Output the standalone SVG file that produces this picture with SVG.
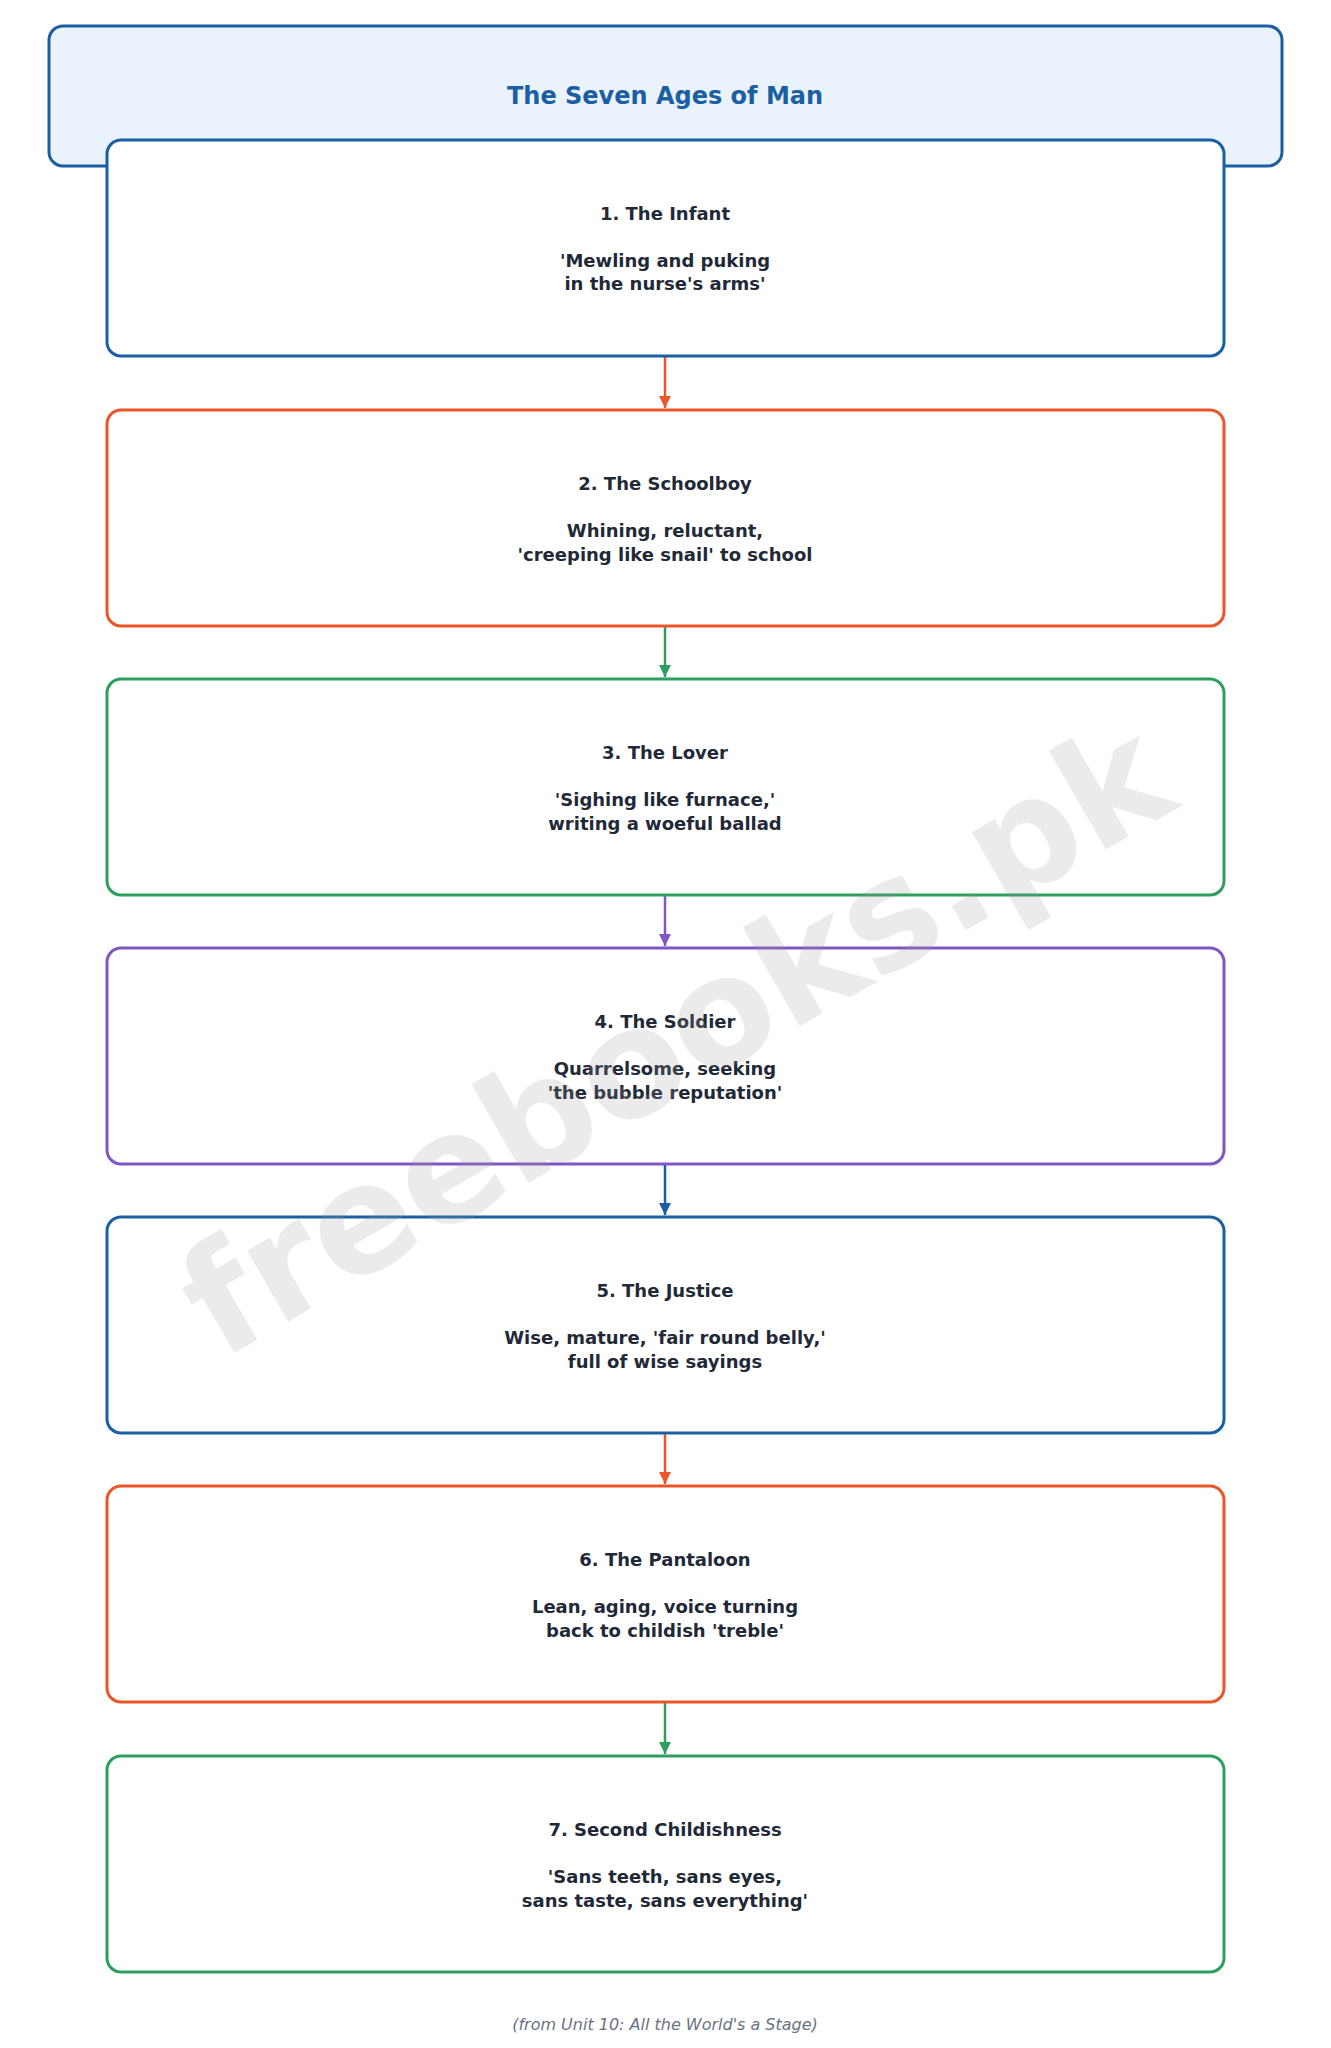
<svg xmlns="http://www.w3.org/2000/svg" width="1331" height="2048" viewBox="0 0 1331 2048">
<style>
.n{fill:#fff;stroke-width:3}
.t{font-family:"DejaVu Sans",sans-serif;font-weight:bold;font-size:18px;fill:#1f2937;text-anchor:middle}
.c{stroke-width:2.5;fill:none}
</style>
<defs>
<marker id="mo" viewBox="0 0 10 10" refX="10" refY="5" markerWidth="5" markerHeight="5" orient="auto"><path d="M0,0L10,5L0,10z" fill="#e8562a"/></marker>
<marker id="mg" viewBox="0 0 10 10" refX="10" refY="5" markerWidth="5" markerHeight="5" orient="auto"><path d="M0,0L10,5L0,10z" fill="#2e9e5e"/></marker>
<marker id="mp" viewBox="0 0 10 10" refX="10" refY="5" markerWidth="5" markerHeight="5" orient="auto"><path d="M0,0L10,5L0,10z" fill="#7e57c2"/></marker>
<marker id="mb" viewBox="0 0 10 10" refX="10" refY="5" markerWidth="5" markerHeight="5" orient="auto"><path d="M0,0L10,5L0,10z" fill="#1a5fa3"/></marker>
</defs>
<rect width="1331" height="2048" fill="#fff"/>
<g id="title"><rect x="49" y="26" width="1233" height="140" rx="14" fill="#eaf2fc" stroke="#1a5fa3" stroke-width="3"/>
<text x="665" y="104" style="font-family:'DejaVu Sans',sans-serif;font-weight:bold;font-size:24px;fill:#1a5fa3;text-anchor:middle">The Seven Ages of Man</text></g>
<g id="connectors">
<line x1="665" y1="356" x2="665" y2="408" class="c" stroke="#e8562a" marker-end="url(#mo)"/>
<line x1="665" y1="626" x2="665" y2="677" class="c" stroke="#2e9e5e" marker-end="url(#mg)"/>
<line x1="665" y1="895" x2="665" y2="946" class="c" stroke="#7e57c2" marker-end="url(#mp)"/>
<line x1="665" y1="1164" x2="665" y2="1215" class="c" stroke="#1a5fa3" marker-end="url(#mb)"/>
<line x1="665" y1="1433" x2="665" y2="1484" class="c" stroke="#e8562a" marker-end="url(#mo)"/>
<line x1="665" y1="1702" x2="665" y2="1754" class="c" stroke="#2e9e5e" marker-end="url(#mg)"/>
</g>
<g id="n1"><rect class="n" x="107" y="140" width="1117" height="216" rx="14" stroke="#1a5fa3"/>
<text class="t" x="665" y="220">1. The Infant</text><text class="t" x="665" y="267">'Mewling and puking</text><text class="t" x="665" y="290">in the nurse's arms'</text></g>
<g id="n2"><rect class="n" x="107" y="410" width="1117" height="216" rx="14" stroke="#e8562a"/>
<text class="t" x="665" y="490">2. The Schoolboy</text><text class="t" x="665" y="537">Whining, reluctant,</text><text class="t" x="665" y="561">'creeping like snail' to school</text></g>
<g id="n3"><rect class="n" x="107" y="679" width="1117" height="216" rx="14" stroke="#2e9e5e"/>
<text class="t" x="665" y="759">3. The Lover</text><text class="t" x="665" y="806">'Sighing like furnace,'</text><text class="t" x="665" y="830">writing a woeful ballad</text></g>
<g id="n4"><rect class="n" x="107" y="948" width="1117" height="216" rx="14" stroke="#7e57c2"/>
<text class="t" x="665" y="1028">4. The Soldier</text><text class="t" x="665" y="1075">Quarrelsome, seeking</text><text class="t" x="665" y="1099">'the bubble reputation'</text></g>
<g id="n5"><rect class="n" x="107" y="1217" width="1117" height="216" rx="14" stroke="#1a5fa3"/>
<text class="t" x="665" y="1297">5. The Justice</text><text class="t" x="665" y="1344">Wise, mature, 'fair round belly,'</text><text class="t" x="665" y="1368">full of wise sayings</text></g>
<g id="n6"><rect class="n" x="107" y="1486" width="1117" height="216" rx="14" stroke="#e8562a"/>
<text class="t" x="665" y="1566">6. The Pantaloon</text><text class="t" x="665" y="1613">Lean, aging, voice turning</text><text class="t" x="665" y="1637">back to childish 'treble'</text></g>
<g id="n7"><rect class="n" x="107" y="1756" width="1117" height="216" rx="14" stroke="#2e9e5e"/>
<text class="t" x="665" y="1836">7. Second Childishness</text><text class="t" x="665" y="1883">'Sans teeth, sans eyes,</text><text class="t" x="665" y="1907">sans taste, sans everything'</text></g>
<text x="665" y="2030" style="font-family:'DejaVu Sans',sans-serif;font-style:italic;font-size:16px;fill:#6b7280;text-anchor:middle">(from Unit 10: All the World's a Stage)</text>
<text x="676" y="1090" transform="rotate(-30 676 1040)" style="font-family:'DejaVu Sans',sans-serif;font-weight:bold;font-size:150px;fill:#999;fill-opacity:0.2;text-anchor:middle">freebooks.pk</text>
</svg>
